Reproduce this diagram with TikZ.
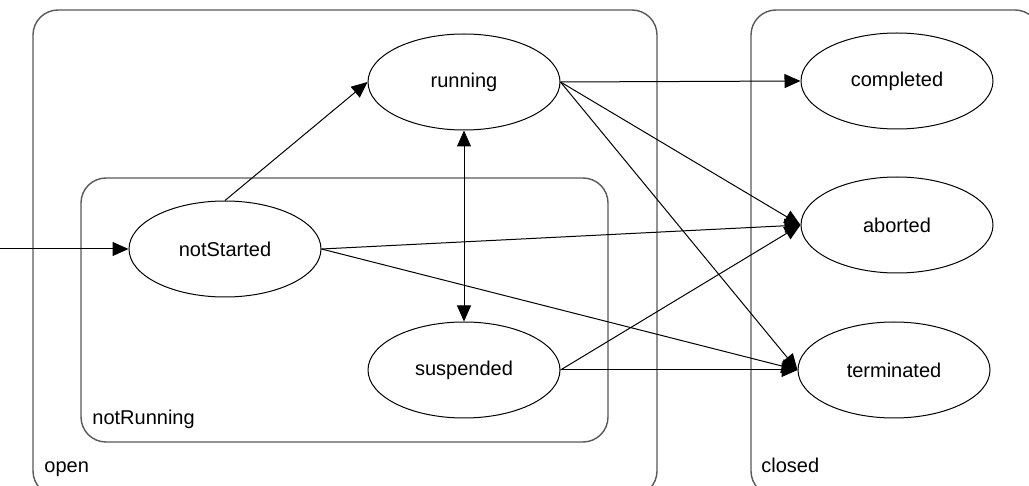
\documentclass[tikz,border=0pt]{standalone}
\usepackage{fontspec}
\setmainfont{Liberation Sans}
\usetikzlibrary{shapes.geometric,arrows.meta}
\begin{document}
\begin{tikzpicture}[x=0.5pt,y=-0.5pt,
  state/.style={draw,ellipse,minimum width=96pt,minimum height=48pt,inner sep=0pt,line width=0.5pt,font=\fontsize{10}{12}\selectfont},
  region/.style={draw=black!65,line width=0.7pt,rounded corners=12.5pt},
  lbl/.style={anchor=base west,inner sep=0pt,font=\fontsize{10}{12}\selectfont},
  tr/.style={line width=0.5pt,-{Triangle[length=8pt,width=7pt]}},
  btr/.style={line width=0.5pt,{Triangle[length=8pt,width=7pt]}-{Triangle[length=8pt,width=7pt]}}]
\useasboundingbox (0,0) rectangle (1029,486);
\clip (0,0) rectangle (1029,486);
\fill[white] (0,0) rectangle (1029,486);
% regions
\draw[region] (33,10) rectangle (657,496);
\draw[region] (751,10) rectangle (1040,496);
\draw[region] (81,178) rectangle (608,442);
\node[lbl] (openlbl) at (44,473) {open};
\node[lbl] (closedlbl) at (761,473) {closed};
\node[lbl] (nrlbl) at (92,424) {notRunning};
% states
\node[state] (running) at (464,82) {running};
\node[state] (notStarted) at (225,249) {notStarted};
\node[state] (suspended) at (464,370) {suspended};
\node[state] (completed) at (897,81) {completed};
\node[state] (aborted) at (897,225) {aborted};
\node[state] (terminated) at (894,370) {terminated};
\coordinate (init) at (-5,249);
% transitions
\draw[tr] (init) -- (notStarted.west);
\draw[tr] (notStarted.north) -- (running.west);
\draw[tr] (running.east) -- (completed.west);
\draw[tr] (running.east) -- (aborted.west);
\draw[tr] (running.east) -- (terminated.west);
\draw[btr] (running.south) -- (suspended.north);
\draw[tr] (notStarted.east) -- (aborted.west);
\draw[tr] (notStarted.east) -- (terminated.west);
\draw[tr] (suspended.east) -- (aborted.west);
\draw[tr] (suspended.east) -- (terminated.west);
\end{tikzpicture}
\end{document}
